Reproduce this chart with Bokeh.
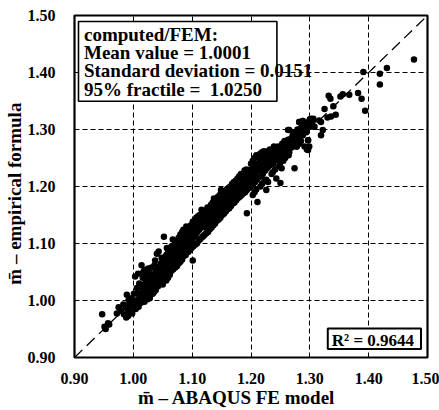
from bokeh.plotting import figure
from bokeh.models import Range1d, FixedTicker, Label, BoxAnnotation, Slope
from bokeh.embed import file_html
from bokeh.resources import INLINE

# ---------------- data ----------------
tick_vals = [0.9, 1.0, 1.1, 1.2, 1.3, 1.4, 1.5]
tick_labels = ["0.90", "1.00", "1.10", "1.20", "1.30", "1.40", "1.50"]
grid_vals = [1.0, 1.1, 1.2, 1.3, 1.4]

x_title = "m\u0304 \u2013 ABAQUS FE model"
y_title = "m\u0304 \u2013 empirical formula"
stats_lines = ["computed/FEM:", "Mean value = 1.0001",
               "Standard deviation = 0.0151", "95% fractile =\u00a0 1.0250"]
r2_text = "R\u00b2 = 0.9644"

# (m ABAQUS FE model, m empirical formula)
low_pts = [
    (0.947, 0.976), (0.951, 0.954), (0.953, 0.950), (0.957, 0.960), (0.959, 0.958),
    (0.972, 0.977), (0.975, 0.988), (0.979, 0.982), (0.983, 0.993), (0.984, 0.976),
    (0.987, 0.990), (0.988, 0.970), (0.989, 1.010), (0.990, 0.985), (0.991, 0.973),
    (0.992, 1.001), (0.993, 0.980), (0.994, 0.996), (0.996, 0.988), (0.997, 1.004),
    (0.998, 0.977), (0.999, 0.998),
]

band_a = [
    (1.002, 0.993), (1.003, 1.042), (1.001, 1.012), (1.004, 0.985),
    (1.005, 1.000), (1.006, 1.022), (1.007, 0.990),
    (1.008, 1.047), (1.009, 0.989), (1.008, 1.012), (1.010, 1.030),
    (1.011, 1.005), (1.012, 1.024), (1.013, 0.996),
    (1.014, 1.062), (1.015, 1.015), (1.014, 1.002), (1.016, 1.040),
    (1.017, 1.027), (1.018, 1.008), (1.017, 1.050), (1.019, 0.998),
    (1.019, 1.053), (1.020, 1.018), (1.021, 1.035),
    (1.022, 1.030), (1.023, 1.010), (1.022, 1.045), (1.024, 1.002),
    (1.025, 1.020), (1.026, 1.038), (1.025, 1.056), (1.027, 1.006),
    (1.028, 1.004), (1.029, 1.030), (1.028, 1.048), (1.030, 1.016),
    (1.031, 1.040), (1.032, 1.022), (1.031, 1.058), (1.033, 1.012),
    (1.034, 1.024), (1.035, 1.045), (1.034, 1.035), (1.036, 1.062), (1.035, 1.015),
    (1.037, 1.028), (1.038, 1.050), (1.037, 1.070), (1.039, 1.040), (1.038, 1.018),
    (1.040, 1.035), (1.041, 1.055), (1.040, 1.082), (1.042, 1.025), (1.041, 1.045),
    (1.043, 1.059), (1.044, 1.040), (1.043, 1.086), (1.045, 1.030), (1.044, 1.050),
    (1.046, 1.045), (1.047, 1.065), (1.046, 1.032), (1.048, 1.075), (1.047, 1.055),
    (1.049, 1.050), (1.050, 1.070), (1.049, 1.038), (1.051, 1.060), (1.050, 1.028),
    (1.052, 1.112), (1.053, 1.055), (1.052, 1.075), (1.054, 1.042), (1.053, 1.065),
    (1.055, 1.060), (1.056, 1.080), (1.055, 1.045), (1.057, 1.092), (1.056, 1.035),
    (1.058, 1.065), (1.059, 1.085), (1.058, 1.050), (1.060, 1.075), (1.059, 1.040),
    (1.061, 1.070), (1.062, 1.090), (1.061, 1.055), (1.063, 1.080), (1.062, 1.045),
    (1.064, 1.075), (1.065, 1.095), (1.064, 1.060), (1.066, 1.085), (1.065, 1.052),
    (1.067, 1.107), (1.068, 1.078), (1.067, 1.090), (1.069, 1.062), (1.068, 1.055),
    (1.070, 1.085), (1.071, 1.100), (1.070, 1.068), (1.072, 1.095), (1.071, 1.058),
    (1.073, 1.090), (1.074, 1.105), (1.073, 1.072), (1.075, 1.082), (1.074, 1.060),
    (1.076, 1.095), (1.077, 1.110), (1.076, 1.075), (1.078, 1.088), (1.077, 1.065),
    (1.079, 1.098), (1.080, 1.116), (1.079, 1.080), (1.081, 1.105), (1.080, 1.068),
    (1.082, 1.102), (1.083, 1.120), (1.082, 1.085), (1.084, 1.110), (1.083, 1.072),
    (1.085, 1.124), (1.086, 1.105), (1.085, 1.090), (1.087, 1.115), (1.086, 1.078),
    (1.088, 1.110), (1.089, 1.122), (1.088, 1.094), (1.090, 1.130), (1.089, 1.080),
    (1.091, 1.124), (1.092, 1.112), (1.091, 1.098), (1.093, 1.085), (1.092, 1.118),
    (1.094, 1.115), (1.095, 1.128), (1.094, 1.102), (1.096, 1.088), (1.095, 1.120),
    (1.097, 1.120), (1.098, 1.132), (1.097, 1.106), (1.099, 1.092), (1.098, 1.112),
]

band_b = [
    (1.100, 1.125), (1.101, 1.138), (1.100, 1.108), (1.102, 1.095), (1.101, 1.070),
    (1.103, 1.128), (1.104, 1.140), (1.103, 1.112), (1.105, 1.098), (1.104, 1.120),
    (1.106, 1.130), (1.107, 1.145), (1.106, 1.116), (1.108, 1.100), (1.107, 1.124),
    (1.109, 1.135), (1.110, 1.148), (1.109, 1.120), (1.111, 1.105), (1.110, 1.128),
    (1.112, 1.138), (1.113, 1.150), (1.112, 1.124), (1.114, 1.108), (1.113, 1.132),
    (1.116, 1.159), (1.117, 1.142), (1.116, 1.128), (1.118, 1.112), (1.117, 1.135),
    (1.119, 1.145), (1.120, 1.155), (1.119, 1.132), (1.121, 1.115), (1.120, 1.138),
    (1.122, 1.148), (1.123, 1.158), (1.122, 1.136), (1.124, 1.118), (1.123, 1.128),
    (1.125, 1.150), (1.126, 1.163), (1.125, 1.140), (1.127, 1.120), (1.126, 1.132),
    (1.128, 1.155), (1.129, 1.157), (1.128, 1.144), (1.130, 1.125), (1.129, 1.136),
    (1.131, 1.159), (1.132, 1.168), (1.131, 1.148), (1.133, 1.128), (1.132, 1.140),
    (1.134, 1.160), (1.135, 1.172), (1.134, 1.150), (1.136, 1.132), (1.135, 1.145),
    (1.137, 1.179), (1.138, 1.165), (1.137, 1.154), (1.139, 1.135), (1.138, 1.148),
    (1.140, 1.168), (1.141, 1.178), (1.140, 1.158), (1.142, 1.140), (1.141, 1.150),
    (1.143, 1.170), (1.144, 1.182), (1.143, 1.160), (1.145, 1.142), (1.144, 1.155),
    (1.146, 1.175), (1.147, 1.185), (1.146, 1.164), (1.148, 1.145), (1.147, 1.158),
    (1.149, 1.194), (1.150, 1.178), (1.149, 1.168), (1.151, 1.150), (1.150, 1.160),
    (1.152, 1.180), (1.153, 1.190), (1.152, 1.170), (1.154, 1.152), (1.153, 1.165),
    (1.155, 1.182), (1.156, 1.192), (1.155, 1.174), (1.157, 1.156), (1.156, 1.168),
    (1.158, 1.185), (1.159, 1.195), (1.158, 1.178), (1.160, 1.160), (1.159, 1.170),
    (1.161, 1.188), (1.162, 1.198), (1.161, 1.180), (1.163, 1.162), (1.162, 1.174),
    (1.164, 1.190), (1.165, 1.200), (1.164, 1.182), (1.166, 1.166), (1.165, 1.176),
    (1.167, 1.194), (1.168, 1.205), (1.167, 1.185), (1.169, 1.170), (1.168, 1.180),
    (1.170, 1.195), (1.171, 1.208), (1.170, 1.188), (1.172, 1.172), (1.171, 1.182),
    (1.173, 1.198), (1.174, 1.210), (1.173, 1.190), (1.175, 1.176), (1.174, 1.185),
    (1.176, 1.200), (1.177, 1.214), (1.176, 1.192), (1.178, 1.180), (1.177, 1.188),
    (1.179, 1.205), (1.180, 1.218), (1.179, 1.195), (1.181, 1.182), (1.180, 1.190),
    (1.182, 1.210), (1.183, 1.222), (1.182, 1.198), (1.184, 1.185), (1.183, 1.194),
    (1.185, 1.220), (1.186, 1.212), (1.185, 1.202), (1.187, 1.188), (1.186, 1.196),
    (1.188, 1.215), (1.189, 1.228), (1.188, 1.205), (1.190, 1.190), (1.189, 1.198),
    (1.191, 1.218), (1.192, 1.230), (1.191, 1.208), (1.193, 1.194), (1.192, 1.200),
    (1.193, 1.153), (1.194, 1.220), (1.195, 1.210), (1.194, 1.196),
    (1.196, 1.229), (1.197, 1.222), (1.196, 1.212), (1.198, 1.198), (1.197, 1.204),
    (1.199, 1.225), (1.200, 1.240), (1.199, 1.215), (1.201, 1.202), (1.200, 1.208),
]

band_c = [
    (1.202, 1.230), (1.203, 1.245), (1.202, 1.218), (1.204, 1.205), (1.203, 1.185),
    (1.205, 1.235), (1.206, 1.250), (1.205, 1.222), (1.207, 1.208), (1.206, 1.190),
    (1.208, 1.238), (1.209, 1.255), (1.208, 1.225), (1.210, 1.212), (1.209, 1.195),
    (1.211, 1.173), (1.212, 1.240), (1.213, 1.228), (1.212, 1.215), (1.214, 1.252),
    (1.215, 1.245), (1.216, 1.258), (1.215, 1.232), (1.217, 1.218), (1.216, 1.200),
    (1.218, 1.248), (1.219, 1.260), (1.218, 1.235), (1.220, 1.222), (1.219, 1.205),
    (1.221, 1.250), (1.222, 1.238), (1.221, 1.225), (1.223, 1.210), (1.222, 1.262),
    (1.224, 1.252), (1.225, 1.242), (1.224, 1.228), (1.226, 1.212),
    (1.226, 1.194), (1.227, 1.255), (1.228, 1.245), (1.227, 1.232), (1.229, 1.262),
    (1.229, 1.208), (1.230, 1.258), (1.231, 1.248), (1.230, 1.235), (1.232, 1.265),
    (1.233, 1.260), (1.234, 1.250), (1.233, 1.238), (1.235, 1.222),
    (1.236, 1.246), (1.237, 1.262), (1.236, 1.252), (1.238, 1.240), (1.237, 1.225),
    (1.239, 1.270), (1.240, 1.255), (1.239, 1.245), (1.241, 1.230),
    (1.243, 1.214), (1.244, 1.265), (1.243, 1.258), (1.245, 1.248),
    (1.246, 1.270), (1.247, 1.260), (1.246, 1.250), (1.248, 1.235),
    (1.250, 1.206), (1.249, 1.269), (1.250, 1.262), (1.251, 1.255), (1.249, 1.240),
    (1.252, 1.232), (1.253, 1.275), (1.252, 1.265), (1.254, 1.258),
    (1.255, 1.268), (1.256, 1.260), (1.255, 1.245), (1.257, 1.280),
    (1.258, 1.272), (1.259, 1.262), (1.258, 1.250),
    (1.262, 1.265), (1.263, 1.299), (1.262, 1.275), (1.264, 1.255),
    (1.265, 1.282), (1.266, 1.278), (1.265, 1.260),
    (1.268, 1.278), (1.269, 1.285), (1.268, 1.268),
    (1.271, 1.290), (1.272, 1.280), (1.271, 1.270),
    (1.274, 1.232), (1.275, 1.278), (1.274, 1.295),
    (1.278, 1.285), (1.279, 1.300), (1.278, 1.270),
    (1.282, 1.275), (1.282, 1.313), (1.283, 1.290),
    (1.285, 1.296), (1.286, 1.305), (1.285, 1.280),
    (1.288, 1.315), (1.289, 1.300), (1.288, 1.290),
    (1.291, 1.270), (1.292, 1.305),
    (1.294, 1.312), (1.295, 1.303), (1.294, 1.295),
    (1.297, 1.264), (1.297, 1.281), (1.298, 1.310),
    (1.295, 1.265), (1.300, 1.318),
    (1.303, 1.315), (1.304, 1.308),
    (1.306, 1.319), (1.306, 1.305),
]

upper_pts = [
    (1.477, 1.423), (1.431, 1.408), (1.419, 1.398), (1.419, 1.379), (1.391, 1.401),
    (1.382, 1.364), (1.388, 1.354), (1.394, 1.333), (1.367, 1.361), (1.356, 1.362),
    (1.352, 1.358), (1.332, 1.359), (1.335, 1.354), (1.340, 1.341), (1.325, 1.336),
    (1.336, 1.323), (1.330, 1.321), (1.316, 1.316), (1.319, 1.313), (1.302, 1.319),
    (1.305, 1.315), (1.288, 1.315), (1.282, 1.313), (1.294, 1.312), (1.280, 1.299),
    (1.285, 1.296), (1.265, 1.299), (1.322, 1.299), (1.319, 1.290), (1.308, 1.305),
    (1.297, 1.281), (1.299, 1.270), (1.274, 1.278), (1.263, 1.282), (1.257, 1.273),
    (1.268, 1.273), (1.277, 1.270), (1.344, 1.326),
]

all_pts = low_pts + band_a + band_b + band_c + upper_pts
fem = [pt[0] for pt in all_pts]
emp = [pt[1] for pt in all_pts]

# ---------------- figure ----------------
FONT = "Liberation Serif"
NBSP = "\u00a0"

p = figure(width=439, height=410, output_backend="svg", toolbar_location=None,
           x_range=Range1d(0.9, 1.5), y_range=Range1d(0.9, 1.5),
           min_border_left=73, min_border_right=12, min_border_top=15,
           min_border_bottom=52)
p.background_fill_color = "white"
p.border_fill_color = "white"
p.outline_line_color = "black"
p.outline_line_width = 2.2
p.outline_line_alpha = 1.0

overrides = {v: s for v, s in zip(tick_vals, tick_labels)}
for ax in (p.xaxis[0], p.yaxis[0]):
    ax.ticker = FixedTicker(ticks=tick_vals)
    ax.major_label_overrides = overrides
    ax.axis_line_color = None
    ax.major_tick_line_color = None
    ax.minor_tick_line_color = None
    ax.major_label_text_font = FONT
    ax.major_label_text_font_style = "bold"
    ax.major_label_text_font_size = "16px"
    ax.major_label_text_color = "black"
    ax.axis_label_text_font = FONT
    ax.axis_label_text_font_style = "bold"
    ax.axis_label_text_font_size = "19px"
    ax.axis_label_text_color = "black"
    ax.axis_label_standoff = 0
p.xaxis.major_label_standoff = 9
p.yaxis.major_label_standoff = 13
# trailing no-break spaces shift the centred titles as in the reference
p.xaxis.axis_label = x_title + NBSP * 6
p.yaxis.axis_label = y_title + NBSP * 3

for g in (p.xgrid[0], p.ygrid[0]):
    g.ticker = FixedTicker(ticks=grid_vals)
    g.grid_line_color = "black"
    g.grid_line_dash = "5 3"
    g.grid_line_width = 1
    g.grid_line_alpha = 1.0

# y = x reference line
p.add_layout(Slope(gradient=1, y_intercept=0, line_color="black",
                   line_width=1.3, line_dash="11 6"))

p.scatter(fem, emp, size=6.5, fill_color="black", line_color=None)

# helpers converting picture pixel positions to data coordinates
def fx(px):
    return 0.9 + (px - 73.0) / 590.0

def fy(py):
    return 0.9 + (358.0 - py) / 571.67

# statistics box
p.add_layout(BoxAnnotation(left=fx(77), right=fx(276), top=fy(21), bottom=fy(101),
                           fill_color="white", fill_alpha=1.0,
                           line_color="black", line_width=1.6, line_alpha=1.0))
for line, by in zip(stats_lines, [34.0, 52.3, 70.6, 88.9]):
    p.add_layout(Label(x=fx(82.5), y=fy(by), text=line, text_font=FONT,
                       text_font_style="bold", text_font_size="19px",
                       text_color="black", text_align="left",
                       text_baseline="alphabetic"))

# R^2 box
p.add_layout(BoxAnnotation(left=fx(327), right=fx(420.5), top=fy(329), bottom=fy(349.5),
                           fill_color="white", fill_alpha=1.0,
                           line_color="black", line_width=2, line_alpha=1.0))
p.add_layout(Label(x=fx(331), y=fy(341), text=r2_text, text_font=FONT,
                   text_font_style="bold", text_font_size="17px",
                   text_color="black", text_align="left",
                   text_baseline="alphabetic"))

open("out.html", "w").write(file_html(p, INLINE))
